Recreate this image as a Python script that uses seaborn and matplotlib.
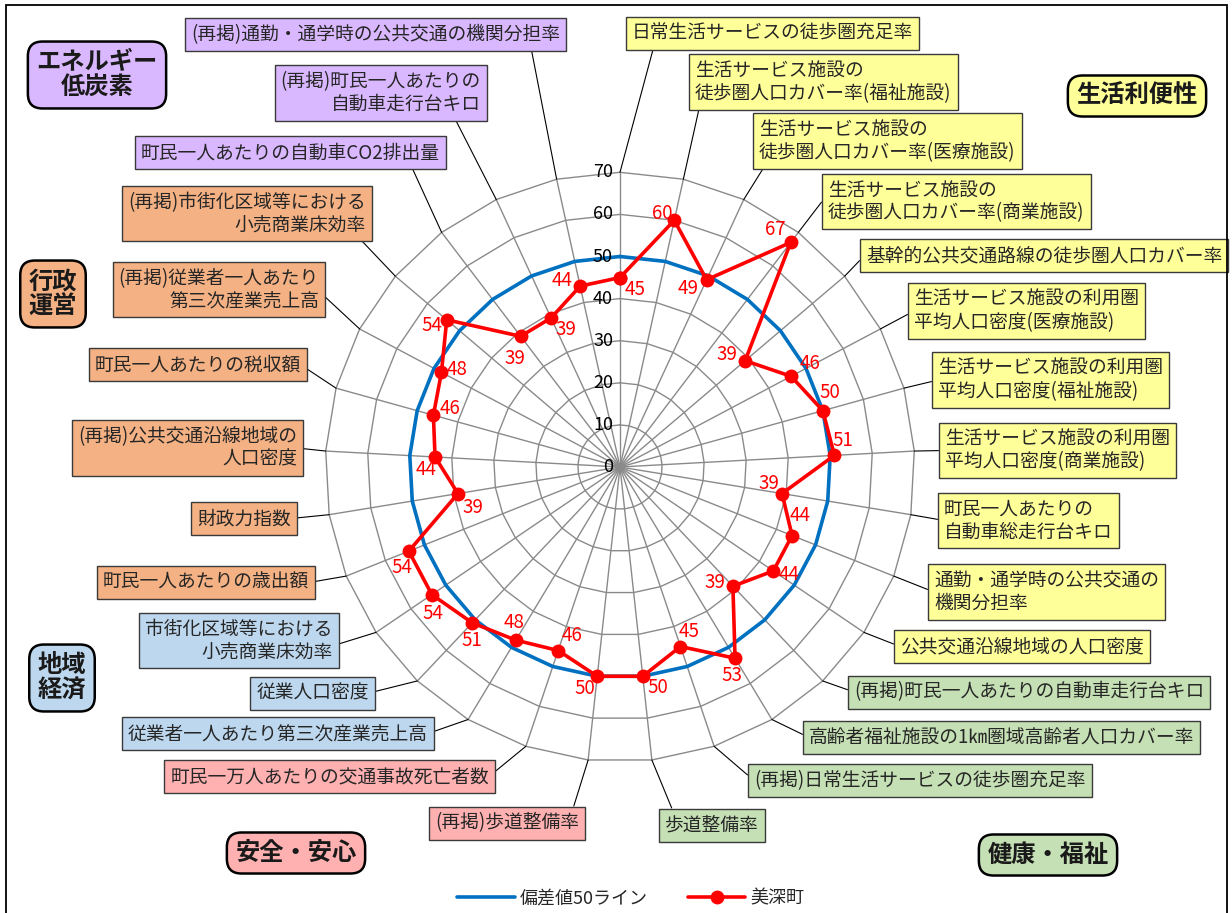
import numpy as np
import pandas as pd
import seaborn as sns
import matplotlib.pyplot as plt
from matplotlib.patches import Rectangle

# indicators, clockwise from the top
labels = [
    '日常生活サービスの徒歩圏充足率',
    '生活サービス施設の\n徒歩圏人口カバー率(福祉施設)',
    '生活サービス施設の\n徒歩圏人口カバー率(医療施設)',
    '生活サービス施設の\n徒歩圏人口カバー率(商業施設)',
    '基幹的公共交通路線の徒歩圏人口カバー率',
    '生活サービス施設の利用圏\n平均人口密度(医療施設)',
    '生活サービス施設の利用圏\n平均人口密度(福祉施設)',
    '生活サービス施設の利用圏\n平均人口密度(商業施設)',
    '町民一人あたりの\n自動車総走行台キロ',
    '通勤・通学時の公共交通の\n機関分担率',
    '公共交通沿線地域の人口密度',
    '(再掲)町民一人あたりの自動車走行台キロ',
    '高齢者福祉施設の1㎞圏域高齢者人口カバー率',
    '(再掲)日常生活サービスの徒歩圏充足率',
    '歩道整備率',
    '(再掲)歩道整備率',
    '町民一万人あたりの交通事故死亡者数',
    '従業者一人あたり第三次産業売上高',
    '従業人口密度',
    '市街化区域等における\n小売商業床効率',
    '町民一人あたりの歳出額',
    '財政力指数',
    '(再掲)公共交通沿線地域の\n人口密度',
    '町民一人あたりの税収額',
    '(再掲)従業者一人あたり\n第三次産業売上高',
    '(再掲)市街化区域等における\n小売商業床効率',
    '町民一人あたりの自動車CO2排出量',
    '(再掲)町民一人あたりの\n自動車走行台キロ',
    '(再掲)通勤・通学時の公共交通の機関分担率',
]
values = [45, 60, 49, 67, 39, 46, 50, 51, 39, 44, 44, 39, 53, 45, 50,
          50, 46, 48, 51, 54, 54, 39, 44, 46, 48, 54, 39, 39, 44]
groups = (['生活利便性'] * 11 + ['健康・福祉'] * 4 + ['安全・安心'] * 2 +
          ['地域経済'] * 3 + ['行政運営'] * 6 + ['エネルギー低炭素'] * 3)
baseline = 50
ring_ticks = [0, 10, 20, 30, 40, 50, 60, 70]
series_names = ['偏差値50ライン', '美深町']

group_colors = {
    '生活利便性': '#FFFF99', '健康・福祉': '#C5E0B4', '安全・安心': '#FFB1B1',
    '地域経済': '#BDD7EE', '行政運営': '#F4B183', 'エネルギー低炭素': '#D9B8FF',
}
group_boxes = [  # title, centre in px
    ('エネルギー\n低炭素', 'エネルギー低炭素', 97, 75),
    ('生活利便性', '生活利便性', 1137, 96),
    ('行政\n運営', '行政運営', 53, 294),
    ('地域\n経済', '地域経済', 62, 678),
    ('安全・安心', '安全・安心', 296, 853),
    ('健康・福祉', '健康・福祉', 1048, 855),
]

# label boxes (left, top, right, bottom in px), text side, leader relpos
boxes = [
    (623, 17, 940, 50, 'left', (0.08, 0)),
    (686, 56, 972, 108, 'left', (0.02, 0)),
    (750, 115, 1032, 167, 'left', (0.03, 0)),
    (819, 175, 1099, 228, 'left', (0, 0.68)),
    (857, 240, 1226, 272, 'left', (0, 0.6)),
    (905, 285, 1148, 337, 'left', (0, 0.5)),
    (929, 353, 1172, 407, 'left', (0, 0.5)),
    (936, 424, 1179, 477, 'left', (0, 0.5)),
    (935, 494, 1126, 547, 'left', (0, 0.5)),
    (925, 565, 1165, 619, 'left', (0, 0.5)),
    (891, 630, 1155, 663, 'left', (0, 0.5)),
    (845, 676, 1218, 708, 'left', (0, 0.5)),
    (800, 722, 1200, 753, 'left', (0, 0.5)),
    (745, 765, 1037, 796, 'left', (0, 0.5)),
    (656, 809, 762, 841, 'left', (0.1, 1)),
    (414, 807, 588, 839, 'right', (0.95, 1)),
    (161, 760, 498, 793, 'right', (1, 0.5)),
    (118, 717, 437, 750, 'right', (1, 0.5)),
    (245, 677, 378, 709, 'right', (1, 0.5)),
    (138, 614, 342, 667, 'right', (1, 0.38)),
    (87, 566, 318, 599, 'right', (1, 0.5)),
    (191, 502, 300, 535, 'right', (1, 0.5)),
    (66, 421, 306, 475, 'right', (1, 0.5)),
    (81, 349, 310, 381, 'right', (1, 0.5)),
    (107, 263, 328, 316, 'right', (1, 0.46)),
    (115, 187, 375, 240, 'right', (0.96, 0)),
    (143, 137, 449, 169, 'right', (0.9, 0)),
    (278, 67, 490, 119, 'right', (0.86, 0)),
    (188, 18, 569, 51, 'right', (0.92, 0)),
]
# value label offsets in px (dx right, dy down)
label_offsets = [
    (15, 12), (-12, -7), (-18, 9), (-15, -13), (-18, -6), (19, -13), (7, -18),
    (8, -15), (-13, -10), (8, -20), (16, 4), (-18, -4), (-3, 17), (9, -15),
    (15, 11), (-12, 12), (14, -15), (-2, -18), (0, 18), (1, 19), (-7, 16),
    (15, 14), (-9, 13), (17, -7), (16, -3), (-15, 6), (-6, 22), (15, 12),
    (-18, -6),
]

W, H = 1232, 913
CX, CY, S = 620, 467, 4.21


def px(x, y):
    return (x - CX) / S, (CY - y) / S


sns.set_theme(style='white')
plt.rcParams['font.family'] = ['Noto Sans CJK JP', 'DejaVu Sans']

n = len(labels)
theta = np.arange(n) * 2 * np.pi / n
df = pd.DataFrame({'指標': labels, 'value': values, 'theta': theta})
df['x'] = df['value'] * np.sin(df['theta'])
df['y'] = df['value'] * np.cos(df['theta'])
df['bx'] = baseline * np.sin(df['theta'])
df['by'] = baseline * np.cos(df['theta'])
loop = pd.concat([df, df.iloc[[0]]], ignore_index=True)

fig = plt.figure(figsize=(W / 100, H / 100), dpi=100)
ax = fig.add_axes([0, 0, 1, 1])

# polygon grid and spokes
rmax = ring_ticks[-1]
tt = np.append(theta, theta[0])
for r in ring_ticks[1:]:
    ax.plot(r * np.sin(tt), r * np.cos(tt), color='#8a8a8a', lw=1, zorder=1)
for t in theta:
    ax.plot([0, rmax * np.sin(t)], [0, rmax * np.cos(t)], color='#8a8a8a', lw=1, zorder=1)
for r in ring_ticks:
    ax.annotate(str(r), (0, r), xytext=(-7, 0), textcoords='offset pixels',
                ha='right', va='center', fontsize=13, color='black', zorder=5)

sns.lineplot(data=loop, x='bx', y='by', sort=False, estimator=None, color='#0070C0',
             lw=2.6, label=series_names[0], ax=ax, zorder=3)
sns.lineplot(data=loop, x='x', y='y', sort=False, estimator=None, color='#FF0000',
             lw=2.6, marker='o', markersize=10, markeredgewidth=0,
             label=series_names[1], ax=ax, zorder=4)

for i, row in df.iterrows():
    dx, dy = label_offsets[i]
    ax.annotate(str(row['value']), (row['x'], row['y']), xytext=(dx, -dy),
                textcoords='offset pixels', ha='center', va='center',
                fontsize=13.5, color='#FF0000', zorder=6)

# indicator boxes with leader lines
for i, (l, t, r, b, side, rp) in enumerate(boxes):
    tx = l + 9 if side == 'left' else r - 9
    end = (rmax * np.sin(theta[i]), rmax * np.cos(theta[i]))
    ax.annotate(labels[i], xy=end, xytext=px(tx, (t + b) / 2), textcoords='data',
                ha=side, va='center', multialignment=side, fontsize=13.5,
                color='#262626', linespacing=1.1, zorder=7,
                bbox=dict(boxstyle='square,pad=0.32', fc=group_colors[groups[i]],
                          ec='#3a3a3a', lw=1),
                arrowprops=dict(arrowstyle='-', color='black', lw=0.8, relpos=rp,
                                shrinkA=0, shrinkB=0))

for title, g, x0, y0 in group_boxes:
    ax.text(*px(x0, y0), title, ha='center', va='center', fontsize=17.5,
            fontweight='bold', color='#1a1a1a', linespacing=1.1, zorder=7,
            bbox=dict(boxstyle='round,pad=0.35,rounding_size=0.6',
                      fc=group_colors[g], ec='black', lw=1.8))

ax.set_xlim(-CX / S, (W - CX) / S)
ax.set_ylim(-(H - CY) / S, CY / S)
ax.axis('off')

ax.legend(loc='center', bbox_to_anchor=(0.512, 0.016), bbox_transform=fig.transFigure,
          ncol=2, frameon=False, fontsize=13, handlelength=3.2, columnspacing=2.2,
          handletextpad=0.3)

fig.add_artist(Rectangle((6 / W, -0.02), (1227 - 6) / W, 1.02 - 5 / H, fill=False,
                         ec='black', lw=1.3, transform=fig.transFigure))

fig.savefig('out.png', dpi=100)
